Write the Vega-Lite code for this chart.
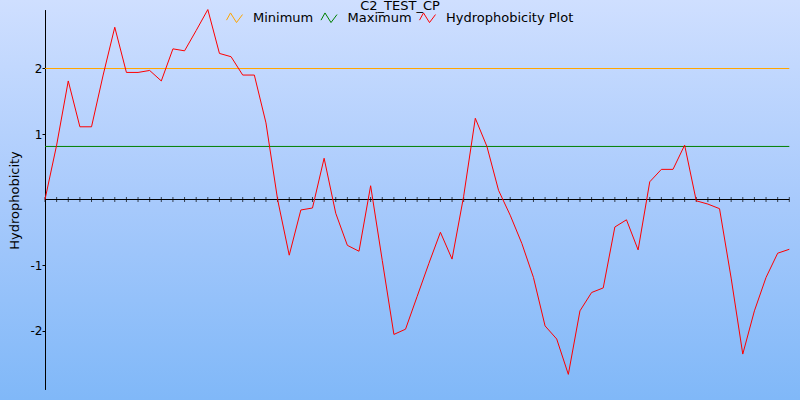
{
  "$schema": "https://vega.github.io/schema/vega-lite/v6.json",
  "width": 800,
  "height": 400,
  "autosize": {"type": "none"},
  "padding": 0,
  "background": "#a9cbfc",
  "view": {
    "stroke": null,
    "fill": {
      "gradient": "linear",
      "x1": 0, "y1": 0, "x2": 0, "y2": 1,
      "stops": [
        {"offset": 0, "color": "#cfdfff"},
        {"offset": 0.5, "color": "#a8cafc"},
        {"offset": 1, "color": "#80b8f8"}
      ]
    }
  },
  "title": {
    "text": "C2_TEST_CP",
    "anchor": "middle",
    "font": "DejaVu Sans",
    "fontSize": 13,
    "fontWeight": "normal",
    "color": "black",
    "baseline": "alphabetic",
    "offset": 0,
    "dy": 22.5
  },
  "datasets": {
    "profile": [
      {"x": 0, "y": 0}, {"x": 1, "y": 0.83}, {"x": 2, "y": 1.81}, {"x": 3, "y": 1.11}, {"x": 4, "y": 1.11},
      {"x": 5, "y": 1.9}, {"x": 6, "y": 2.63}, {"x": 7, "y": 1.94}, {"x": 8, "y": 1.94}, {"x": 9, "y": 1.97},
      {"x": 10, "y": 1.81}, {"x": 11, "y": 2.3}, {"x": 12, "y": 2.27}, {"x": 13, "y": 2.58}, {"x": 14, "y": 2.9},
      {"x": 15, "y": 2.23}, {"x": 16, "y": 2.18}, {"x": 17, "y": 1.9}, {"x": 18, "y": 1.9}, {"x": 19, "y": 1.17},
      {"x": 20, "y": 0.0}, {"x": 21, "y": -0.85}, {"x": 22, "y": -0.16}, {"x": 23, "y": -0.13}, {"x": 24, "y": 0.63},
      {"x": 25, "y": -0.21}, {"x": 26, "y": -0.7}, {"x": 27, "y": -0.79}, {"x": 28, "y": 0.21}, {"x": 29, "y": -0.93},
      {"x": 30, "y": -2.06}, {"x": 31, "y": -1.98}, {"x": 32, "y": -1.48}, {"x": 33, "y": -0.98}, {"x": 34, "y": -0.5},
      {"x": 35, "y": -0.91}, {"x": 36, "y": 0.05}, {"x": 37, "y": 1.24}, {"x": 38, "y": 0.81}, {"x": 39, "y": 0.14},
      {"x": 40, "y": -0.24}, {"x": 41, "y": -0.67}, {"x": 42, "y": -1.19}, {"x": 43, "y": -1.93}, {"x": 44, "y": -2.13},
      {"x": 45, "y": -2.67}, {"x": 46, "y": -1.7}, {"x": 47, "y": -1.42}, {"x": 48, "y": -1.35}, {"x": 49, "y": -0.42},
      {"x": 50, "y": -0.31}, {"x": 51, "y": -0.77}, {"x": 52, "y": 0.27}, {"x": 53, "y": 0.46}, {"x": 54, "y": 0.46},
      {"x": 55, "y": 0.83}, {"x": 56, "y": -0.02}, {"x": 57, "y": -0.07}, {"x": 58, "y": -0.14}, {"x": 59, "y": -1.2},
      {"x": 60, "y": -2.36}, {"x": 61, "y": -1.7}, {"x": 62, "y": -1.19}, {"x": 63, "y": -0.82}, {"x": 64, "y": -0.76}
    ],
    "thresholds": [
      {"series": "Minimum", "y": 2},
      {"series": "Maximum", "y": 0.81}
    ],
    "baseline": [
      {"y": 0}
    ]
  },
  "layer": [
    {
      "data": {"name": "baseline"},
      "mark": {"type": "rule", "color": "black", "strokeWidth": 1},
      "encoding": {
        "y": {"field": "y", "type": "quantitative", "scale": {"domain": [-2.9, 2.9], "range": [389.45, 9.55], "nice": false, "zero": false}},
        "x": {"datum": 0, "type": "quantitative", "scale": {"domain": [0, 64], "range": [45, 789.3], "nice": false, "zero": false}, "axis": null},
        "x2": {"datum": 64}
      }
    },
    {
      "data": {"name": "profile"},
      "mark": {"type": "tick", "orient": "vertical", "size": 5, "thickness": 1, "color": "black"},
      "encoding": {
        "x": {"field": "x", "type": "quantitative"},
        "y": {"datum": 0, "type": "quantitative"}
      }
    },
    {
      "data": {"name": "thresholds"},
      "mark": {"type": "rule", "strokeWidth": 1},
      "encoding": {
        "y": {"field": "y", "type": "quantitative"},
        "x": {"datum": 0, "type": "quantitative"},
        "x2": {"datum": 64},
        "color": {"field": "series", "type": "nominal", "title": null}
      }
    },
    {
      "data": {"name": "profile"},
      "mark": {"type": "line", "strokeWidth": 1},
      "encoding": {
        "x": {"field": "x", "type": "quantitative"},
        "y": {
          "field": "y",
          "type": "quantitative",
          "axis": {
            "orient": "left",
            "offset": -45,
            "values": [-2, -1, 1, 2],
            "grid": false,
            "tickSize": 3,
            "tickColor": "black",
            "domainColor": "black",
            "labelPadding": 0,
            "labelFont": "DejaVu Sans",
            "labelFontSize": 12,
            "labelColor": "black",
            "labelExpr": "(datum.value < 0 ? '-' : '') + abs(datum.value)",
            "title": "Hydrophobicity",
            "titleFont": "DejaVu Sans",
            "titleFontSize": 13,
            "titleFontWeight": "normal",
            "titleColor": "black",
            "titleAngle": -90,
            "titleX": -27,
            "titleY": 200,
            "titleAlign": "center",
            "titleBaseline": "alphabetic"
          }
        },
        "color": {
          "datum": "Hydrophobicity Plot",
          "type": "nominal",
          "title": null,
          "scale": {
            "domain": ["Minimum", "Maximum", "Hydrophobicity Plot"],
            "range": ["#ffa500", "#008000", "#ff0000"]
          },
          "legend": {
            "orient": "none",
            "legendX": 226,
            "legendY": 9,
            "direction": "horizontal",
            "title": null,
            "padding": 0,
            "symbolType": "M-1,0.3L-0.5,-0.6L0.25,0.6L1,-0.4",
            "symbolSize": 256,
            "symbolStrokeWidth": 1,
            "symbolFillColor": "transparent",
            "labelFont": "DejaVu Sans",
            "labelFontSize": 13,
            "labelColor": "black",
            "labelOffset": 10,
            "columnPadding": 4.5
          }
        }
      }
    }
  ]
}
